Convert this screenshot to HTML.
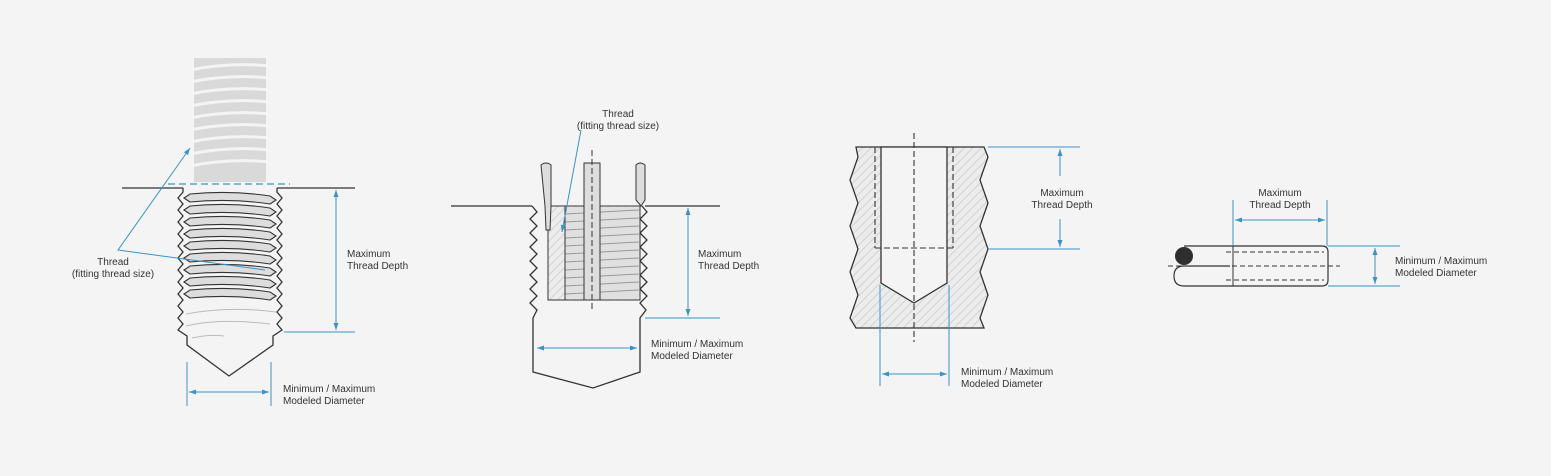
<!DOCTYPE html>
<html><head><meta charset="utf-8"><style>
html,body{margin:0;padding:0;background:#f4f4f4;}
svg{display:block;font-family:"Liberation Sans",sans-serif;}
text{font-size:10px;fill:#333;}
</style></head><body>
<svg width="1551" height="476" viewBox="0 0 1551 476" xmlns="http://www.w3.org/2000/svg">
<defs>
<marker id="a" markerWidth="8" markerHeight="8" refX="7" refY="4" orient="auto-start-reverse" markerUnits="userSpaceOnUse"><path d="M0,1.5 L7,4 L0,6.5 Z" fill="#3a93c5"/></marker>
<pattern id="h" width="6" height="6" patternUnits="userSpaceOnUse" patternTransform="rotate(45)"><rect width="6" height="6" fill="#ececec"/><line x1="0" y1="0" x2="0" y2="6" stroke="#d2d2d2" stroke-width="2"/></pattern>
</defs>
<rect width="1551" height="476" fill="#f4f4f4"/>

<!-- FIGURE 1 -->
<g>
<rect x="194" y="58" width="72" height="124" fill="#d9d9d9"/>
<g stroke="#f4f4f4" stroke-width="3" fill="none">
<path d="M190,70 Q230,62 270,66"/><path d="M190,82 Q230,74 270,78"/><path d="M190,94 Q230,86 270,90"/><path d="M190,106 Q230,98 270,102"/><path d="M190,118 Q230,110 270,114"/><path d="M190,130 Q230,122 270,126"/><path d="M190,142 Q230,134 270,138"/><path d="M190,154 Q230,146 270,150"/><path d="M190,166 Q230,158 270,162"/>
</g>
<line x1="168" y1="184" x2="290" y2="184" stroke="#3a93c5" stroke-width="1.3" stroke-dasharray="7,4"/>
<line x1="122" y1="188" x2="183" y2="188" stroke="#333" stroke-width="1.3"/>
<line x1="277" y1="188" x2="355" y2="188" stroke="#333" stroke-width="1.3"/>
<path d="M183,188 L183,192 L178,198 L183,204 L178,210 L183,216 L178,222 L183,228 L178,234 L183,240 L178,246 L183,252 L178,258 L183,264 L178,270 L183,276 L178,282 L183,288 L178,294 L183,300 L178,306 L183,312 L178,318 L183,324 L178,330 L187,336 L187,345 L229,376 L273,345 L273,336 L282,330 L277,324 L282,318 L277,312 L282,306 L277,300 L282,294 L277,288 L282,282 L277,276 L282,270 L277,264 L282,258 L277,252 L282,246 L277,240 L282,234 L277,228 L282,222 L277,216 L282,210 L277,204 L282,198 L277,192 L277,188" fill="#f4f4f4" stroke="#333" stroke-width="1.3"/>
<g stroke="#333" stroke-width="1.1" fill="#ddd">
<path d="M184,198 L190,194 Q230,190 270,196 L276,200 L270,204 Q230,198 190,202 Z"/>
<path d="M184,210 L190,206 Q230,202 270,208 L276,212 L270,216 Q230,210 190,214 Z"/>
<path d="M184,222 L190,218 Q230,214 270,220 L276,224 L270,228 Q230,222 190,226 Z"/>
<path d="M184,234 L190,230 Q230,226 270,232 L276,236 L270,240 Q230,234 190,238 Z"/>
<path d="M184,246 L190,242 Q230,238 270,244 L276,248 L270,252 Q230,246 190,250 Z"/>
<path d="M184,258 L190,254 Q230,250 270,256 L276,260 L270,264 Q230,258 190,262 Z"/>
<path d="M184,270 L190,266 Q230,262 270,268 L276,272 L270,276 Q230,270 190,274 Z"/>
<path d="M184,282 L190,278 Q230,274 270,280 L276,284 L270,288 Q230,282 190,286 Z"/>
<path d="M184,294 L190,290 Q230,286 270,292 L276,296 L270,300 Q230,294 190,298 Z"/>
</g>
<g stroke="#bbb" stroke-width="1" fill="none"><path d="M186,314 Q230,306 276,312"/><path d="M186,326 Q220,318 270,324"/><path d="M192,338 Q210,334 224,336"/></g>
<line x1="187" y1="362" x2="187" y2="406" stroke="#3a93c5" stroke-width="1"/>
<line x1="271" y1="362" x2="271" y2="406" stroke="#3a93c5" stroke-width="1"/>
<line x1="189" y1="392" x2="269" y2="392" stroke="#3a93c5" stroke-width="1" marker-start="url(#a)" marker-end="url(#a)"/>
<line x1="336" y1="190" x2="336" y2="330" stroke="#3a93c5" stroke-width="1" marker-start="url(#a)" marker-end="url(#a)"/>
<line x1="284" y1="332" x2="355" y2="332" stroke="#3a93c5" stroke-width="1"/>
<polyline points="190,148 118,250 265,270" fill="none" stroke="#3a93c5" stroke-width="1" marker-start="url(#a)"/>
<text x="113" y="265" text-anchor="middle">Thread</text>
<text x="113" y="277" text-anchor="middle">(fitting thread size)</text>
<text x="347" y="257">Maximum</text><text x="347" y="269">Thread Depth</text>
<text x="283" y="392">Minimum / Maximum</text><text x="283" y="404">Modeled Diameter</text>
</g>

<!-- FIGURE 2 -->
<g>
<line x1="451" y1="206" x2="532" y2="206" stroke="#333" stroke-width="1.3"/>
<line x1="645" y1="206" x2="720" y2="206" stroke="#333" stroke-width="1.3"/>
<path d="M532,206 L537,212 L530,219 L537,226 L530,233 L537,240 L530,247 L537,254 L530,261 L537,268 L530,275 L537,282 L530,289 L537,296 L530,303 L537,310 L533,318 L533,372 L593,388 L640,372 L640,318 L646,310 L640,303 L647,296 L640,289 L647,282 L640,275 L647,268 L640,261 L647,254 L640,247 L647,240 L640,233 L647,226 L640,219 L647,212 L642,206" fill="#f4f4f4" stroke="#333" stroke-width="1.3"/>
<rect x="548" y="206" width="92" height="94" fill="url(#h)" stroke="#333" stroke-width="1"/>
<rect x="565" y="207" width="74" height="92" fill="#e0e0e0"/>
<g stroke="#999" stroke-width="1"><line x1="565" y1="214" x2="639" y2="210"/><line x1="565" y1="222" x2="639" y2="218"/><line x1="565" y1="230" x2="639" y2="226"/><line x1="565" y1="238" x2="639" y2="234"/><line x1="565" y1="246" x2="639" y2="242"/><line x1="565" y1="254" x2="639" y2="250"/><line x1="565" y1="262" x2="639" y2="258"/><line x1="565" y1="270" x2="639" y2="266"/><line x1="565" y1="278" x2="639" y2="274"/><line x1="565" y1="286" x2="639" y2="282"/><line x1="565" y1="294" x2="639" y2="290"/></g>
<line x1="565" y1="206" x2="565" y2="300" stroke="#333" stroke-width="1"/>
<path d="M541,165 Q546,161 551,165 L551,206 L550,230 L546,230 L545,206 Z" fill="#ddd" stroke="#333" stroke-width="1"/>
<path d="M636,165 Q640,161 645,165 L645,200 L641,206 L636,200 Z" fill="#ddd" stroke="#333" stroke-width="1"/>
<rect x="584" y="163" width="16" height="137" fill="#ddd" stroke="#333" stroke-width="1"/>
<line x1="592" y1="150" x2="592" y2="310" stroke="#333" stroke-width="1" stroke-dasharray="6,3"/>
<line x1="688" y1="208" x2="688" y2="316" stroke="#3a93c5" stroke-width="1" marker-start="url(#a)" marker-end="url(#a)"/>
<line x1="645" y1="318" x2="720" y2="318" stroke="#3a93c5" stroke-width="1"/>
<line x1="537" y1="348" x2="637" y2="348" stroke="#3a93c5" stroke-width="1" marker-start="url(#a)" marker-end="url(#a)"/>
<line x1="581" y1="130" x2="562" y2="232" stroke="#3a93c5" stroke-width="1" marker-end="url(#a)"/>
<text x="618" y="117" text-anchor="middle">Thread</text>
<text x="618" y="129" text-anchor="middle">(fitting thread size)</text>
<text x="698" y="257">Maximum</text><text x="698" y="269">Thread Depth</text>
<text x="651" y="347">Minimum / Maximum</text><text x="651" y="359">Modeled Diameter</text>
</g>

<!-- FIGURE 3 -->
<g>
<path d="M856,147 L984,147 L988,157 L980,180 L988,203 L980,226 L988,249 L980,272 L988,295 L980,318 L984,328 L856,328 L850,318 L858,295 L850,272 L858,249 L850,226 L858,203 L850,180 L858,157 Z" fill="url(#h)" stroke="#333" stroke-width="1.3"/>
<path d="M881,147 L947,147 L947,283 L914,303 L881,283 Z" fill="#f4f4f4" stroke="#333" stroke-width="1.3"/>
<g stroke="#333" stroke-width="1.1" stroke-dasharray="6,3" fill="none">
<line x1="875" y1="147" x2="875" y2="248"/><line x1="953" y1="147" x2="953" y2="248"/>
<line x1="875" y1="248" x2="953" y2="248"/>
<line x1="914" y1="133" x2="914" y2="342"/>
</g>
<line x1="988" y1="147" x2="1080" y2="147" stroke="#3a93c5" stroke-width="1"/>
<line x1="988" y1="249" x2="1080" y2="249" stroke="#3a93c5" stroke-width="1"/>
<line x1="1060" y1="149" x2="1060" y2="176" stroke="#3a93c5" stroke-width="1" marker-start="url(#a)"/>
<line x1="1060" y1="219" x2="1060" y2="247" stroke="#3a93c5" stroke-width="1" marker-end="url(#a)"/>
<line x1="880" y1="285" x2="880" y2="386" stroke="#3a93c5" stroke-width="1"/>
<line x1="949" y1="285" x2="949" y2="386" stroke="#3a93c5" stroke-width="1"/>
<line x1="882" y1="374" x2="947" y2="374" stroke="#3a93c5" stroke-width="1" marker-start="url(#a)" marker-end="url(#a)"/>
<text x="1062" y="196" text-anchor="middle">Maximum</text><text x="1062" y="208" text-anchor="middle">Thread Depth</text>
<text x="961" y="375">Minimum / Maximum</text><text x="961" y="387">Modeled Diameter</text>
</g>

<!-- FIGURE 4 -->
<g>
<path d="M1184,246 L1322,246 Q1328,246 1328,252 L1328,280 Q1328,286 1322,286 L1184,286 Q1174,286 1174,276 Q1174,266 1184,266 L1230,266" fill="none" stroke="#333" stroke-width="1.2"/>
<circle cx="1184" cy="256" r="9" fill="#2e2e2e"/>
<line x1="1233" y1="200" x2="1233" y2="286" stroke="#333" stroke-width="1"/>
<g stroke="#333" stroke-width="1" stroke-dasharray="5,3"><line x1="1226" y1="252" x2="1324" y2="252"/><line x1="1226" y1="280" x2="1324" y2="280"/><line x1="1168" y1="266" x2="1340" y2="266"/></g>
<line x1="1233" y1="200" x2="1233" y2="246" stroke="#3a93c5" stroke-width="1"/>
<line x1="1327" y1="200" x2="1327" y2="246" stroke="#3a93c5" stroke-width="1"/>
<line x1="1235" y1="220" x2="1325" y2="220" stroke="#3a93c5" stroke-width="1" marker-start="url(#a)" marker-end="url(#a)"/>
<line x1="1328" y1="246" x2="1400" y2="246" stroke="#3a93c5" stroke-width="1"/>
<line x1="1328" y1="286" x2="1400" y2="286" stroke="#3a93c5" stroke-width="1"/>
<line x1="1375" y1="248" x2="1375" y2="284" stroke="#3a93c5" stroke-width="1" marker-start="url(#a)" marker-end="url(#a)"/>
<text x="1280" y="196" text-anchor="middle">Maximum</text><text x="1280" y="208" text-anchor="middle">Thread Depth</text>
<text x="1395" y="264">Minimum / Maximum</text><text x="1395" y="276">Modeled Diameter</text>
</g>
</svg>
</body></html>
